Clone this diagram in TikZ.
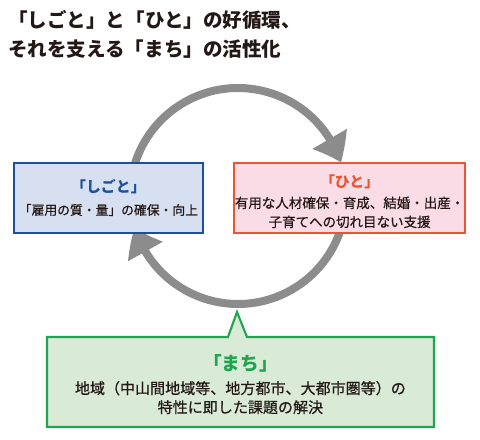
\documentclass[tikz,border=0pt]{standalone}
\usepackage{fontspec}
\setmainfont{Noto Sans CJK JP}
\newfontfamily\bodyfont{Noto Sans CJK JP}[FakeBold=0.6]
\usetikzlibrary{arrows.meta,bending}
\definecolor{inkblack}{HTML}{231815}
\definecolor{shigotoblue}{HTML}{1D4F9C}
\definecolor{shigotofill}{HTML}{D6E0F0}
\definecolor{hitored}{HTML}{EA5532}
\definecolor{hitofill}{HTML}{FADCE6}
\definecolor{machigreen}{HTML}{1EA550}
\definecolor{machifill}{HTML}{D9EBD7}
\definecolor{cyclegray}{HTML}{8C8C8C}
\tikzset{
  title/.style={font=\bfseries\fontsize{13.9}{20}\selectfont,text=inkblack,anchor=west,align=left,inner sep=0pt},
  head/.style={font=\bfseries\fontsize{10.6}{14}\selectfont,inner sep=0pt},
  body/.style={font=\bodyfont\fontsize{9.6}{13.5}\selectfont,text=inkblack,align=center,inner sep=0pt},
  card/.style={line width=1.5pt,minimum height=1.75cm},
  cyclearr/.style={draw=cyclegray,line width=0.2cm,-{Triangle[width=0.95cm,length=0.66cm,bend]}}
}
\begin{document}
\begin{tikzpicture}[x=1cm,y=1cm]
\path[use as bounding box,fill=white] (0,0) rectangle (12,11);
\node[title] (ttl) at (0.2,10.14) {「しごと」と「ひと」の好循環、\\それを支える「まち」の活性化};
% cycle arrows
\coordinate (c) at (5.95,6.1);
\draw[cyclearr] ([shift={(170:2.7)}]c) arc[start angle=170,end angle=18,radius=2.7];
\draw[cyclearr] ([shift={(-10:2.7)}]c) arc[start angle=-10,end angle=-163,radius=2.7];
% shigoto
\node[card,draw=shigotoblue,fill=shigotofill,minimum width=4.725cm] (shigoto) at (2.71,6.05) {};
\node[head,text=shigotoblue] (shigotohead) at (2.71,6.325) {「しごと」};
\node[body,font=\bodyfont\fontsize{9.1}{13}\selectfont] (shigotobody) at (2.71,5.75) {「雇用の質・量」の確保・向上};
% hito
\node[card,draw=hitored,fill=hitofill,minimum width=5.775cm] (hito) at (8.74,6.05) {};
\node[head,text=hitored] (hitohead) at (8.74,6.45) {「ひと」};
\node[body] (hitobody) at (8.74,5.69) {有用な人材確保・育成、結婚・出産・\\子育てへの切れ目ない支援};
% machi callout
\draw[line width=1.5pt,draw=machigreen,fill=machifill] (1.175,0.325) -- (1.175,2.575) -- (5.7,2.575) -- (5.925,3.2) -- (6.175,2.575) -- (10.85,2.575) -- (10.85,0.325) -- cycle;
\node[head,text=machigreen,font=\bfseries\fontsize{13.3}{15}\selectfont] (machihead) at (6.01,1.925) {「まち」};
\node[body,font=\bodyfont\fontsize{10.7}{13.5}\selectfont] (machibody) at (6.01,1.06) {地域（中山間地域等、地方都市、大都市圏等）の\\特性に即した課題の解決};
\end{tikzpicture}
\end{document}
